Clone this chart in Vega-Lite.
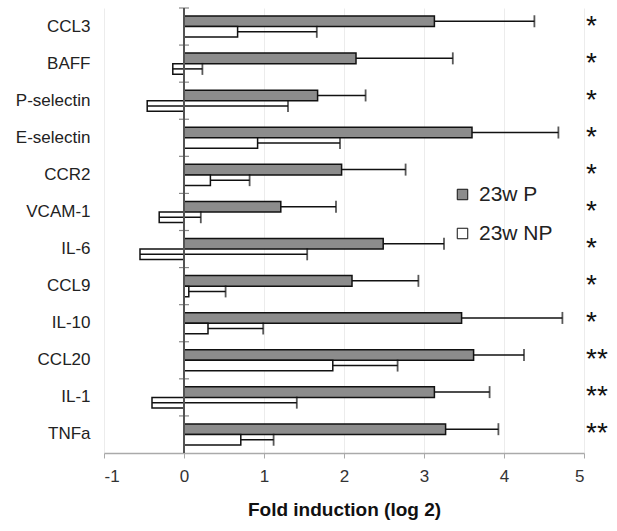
{
  "$schema": "https://vega.github.io/schema/vega-lite/v6.json",
  "autosize": {"type": "none"},
  "width": 480,
  "height": 445,
  "padding": {"left": 104, "top": 8, "right": 33, "bottom": 78},
  "background": "white",
  "config": {
    "view": {"stroke": null},
    "font": "Liberation Sans"
  },
  "datasets": {
    "bars": [
      {"gene": "CCL3", "group": "23w P", "value": 3.13, "upper": 4.38},
      {"gene": "CCL3", "group": "23w NP", "value": 0.67, "upper": 1.66},
      {"gene": "BAFF", "group": "23w P", "value": 2.15, "upper": 3.36},
      {"gene": "BAFF", "group": "23w NP", "value": -0.14, "upper": 0.23},
      {"gene": "P-selectin", "group": "23w P", "value": 1.67, "upper": 2.27},
      {"gene": "P-selectin", "group": "23w NP", "value": -0.46, "upper": 1.30},
      {"gene": "E-selectin", "group": "23w P", "value": 3.60, "upper": 4.68},
      {"gene": "E-selectin", "group": "23w NP", "value": 0.92, "upper": 1.95},
      {"gene": "CCR2", "group": "23w P", "value": 1.97, "upper": 2.77},
      {"gene": "CCR2", "group": "23w NP", "value": 0.33, "upper": 0.82},
      {"gene": "VCAM-1", "group": "23w P", "value": 1.21, "upper": 1.90},
      {"gene": "VCAM-1", "group": "23w NP", "value": -0.31, "upper": 0.21},
      {"gene": "IL-6", "group": "23w P", "value": 2.49, "upper": 3.25},
      {"gene": "IL-6", "group": "23w NP", "value": -0.55, "upper": 1.54},
      {"gene": "CCL9", "group": "23w P", "value": 2.10, "upper": 2.93},
      {"gene": "CCL9", "group": "23w NP", "value": 0.06, "upper": 0.52},
      {"gene": "IL-10", "group": "23w P", "value": 3.47, "upper": 4.73},
      {"gene": "IL-10", "group": "23w NP", "value": 0.30, "upper": 0.99},
      {"gene": "CCL20", "group": "23w P", "value": 3.62, "upper": 4.25},
      {"gene": "CCL20", "group": "23w NP", "value": 1.86, "upper": 2.67},
      {"gene": "IL-1", "group": "23w P", "value": 3.13, "upper": 3.82},
      {"gene": "IL-1", "group": "23w NP", "value": -0.40, "upper": 1.41},
      {"gene": "TNFa", "group": "23w P", "value": 3.27, "upper": 3.93},
      {"gene": "TNFa", "group": "23w NP", "value": 0.71, "upper": 1.12}
    ],
    "sig": [
      {"gene": "CCL3", "stars": "*"},
      {"gene": "BAFF", "stars": "*"},
      {"gene": "P-selectin", "stars": "*"},
      {"gene": "E-selectin", "stars": "*"},
      {"gene": "CCR2", "stars": "*"},
      {"gene": "VCAM-1", "stars": "*"},
      {"gene": "IL-6", "stars": "*"},
      {"gene": "CCL9", "stars": "*"},
      {"gene": "IL-10", "stars": "*"},
      {"gene": "CCL20", "stars": "**"},
      {"gene": "IL-1", "stars": "**"},
      {"gene": "TNFa", "stars": "**"}
    ]
  },
  "encoding": {
    "y": {
      "field": "gene",
      "type": "nominal",
      "sort": ["CCL3", "BAFF", "P-selectin", "E-selectin", "CCR2", "VCAM-1", "IL-6", "CCL9", "IL-10", "CCL20", "IL-1", "TNFa"],
      "scale": {"paddingInner": 0, "paddingOuter": 0},
      "axis": {
        "title": null,
        "domain": false,
        "ticks": false,
        "labelPadding": 14,
        "labelFontSize": 17,
        "labelColor": "#222222",
        "labelFont": "Liberation Sans"
      }
    }
  },
  "layer": [
    {
      "data": {"name": "bars"},
      "mark": {"type": "bar", "stroke": "#111111", "strokeWidth": 1.5},
      "encoding": {
        "x": {
          "field": "value",
          "type": "quantitative",
          "scale": {"domain": [-1, 5], "nice": false, "zero": false},
          "axis": {
            "title": "Fold induction (log 2)",
            "titleFontSize": 19,
            "titleFontWeight": "bold",
            "titleColor": "#111111",
            "titlePadding": 16,
            "values": [-1, 0, 1, 2, 3, 4, 5],
            "labelExpr": "'' + datum.value",
            "labelFontSize": 17,
            "labelColor": "#333333",
            "labelPadding": 10,
            "tickSize": 5,
            "tickColor": "#aaaaaa",
            "domainColor": "#aaaaaa",
            "domainWidth": 1.5,
            "grid": true,
            "gridColor": "#ececec"
          }
        },
        "yOffset": {
          "field": "group",
          "type": "nominal",
          "sort": ["23w P", "23w NP"],
          "scale": {"paddingInner": 0, "paddingOuter": 0.76}
        },
        "color": {
          "field": "group",
          "type": "nominal",
          "sort": ["23w P", "23w NP"],
          "scale": {"domain": ["23w P", "23w NP"], "range": ["#8c8c8c", "#ffffff"]},
          "legend": {
            "title": null,
            "orient": "none",
            "legendX": 348,
            "legendY": 176,
            "padding": 0,
            "symbolType": "square",
            "symbolSize": 110,
            "symbolStrokeColor": "#111111",
            "symbolStrokeWidth": 1,
            "symbolOpacity": 1,
            "labelFontSize": 21,
            "labelColor": "#222222",
            "labelOffset": 6,
            "rowPadding": 17
          }
        }
      }
    },
    {
      "data": {"name": "bars"},
      "mark": {"type": "rule", "color": "#111111", "strokeWidth": 1.5},
      "encoding": {
        "x": {"field": "value", "type": "quantitative"},
        "x2": {"field": "upper"},
        "yOffset": {"field": "group", "type": "nominal", "sort": ["23w P", "23w NP"]}
      }
    },
    {
      "data": {"name": "bars"},
      "mark": {"type": "tick", "color": "#111111", "thickness": 1.8, "size": 12, "orient": "vertical"},
      "encoding": {
        "x": {"field": "upper", "type": "quantitative"},
        "yOffset": {"field": "group", "type": "nominal", "sort": ["23w P", "23w NP"]}
      }
    },
    {
      "data": {"name": "sig"},
      "mark": {"type": "rule", "color": "#555555", "strokeWidth": 1.5},
      "encoding": {
        "x": {"datum": 0},
        "y": null
      }
    },
    {
      "data": {"name": "sig"},
      "mark": {"type": "tick", "color": "#555555", "thickness": 1.2, "size": 10, "orient": "horizontal"},
      "encoding": {
        "x": {"datum": 0},
        "y": {"field": "gene", "type": "nominal", "bandPosition": 0, "sort": ["CCL3", "BAFF", "P-selectin", "E-selectin", "CCR2", "VCAM-1", "IL-6", "CCL9", "IL-10", "CCL20", "IL-1", "TNFa"]}
      }
    },
    {
      "data": {"name": "sig"},
      "mark": {"type": "text", "align": "left", "baseline": "middle", "dx": 2, "dy": 0, "fontSize": 28, "color": "#111111", "font": "Liberation Sans"},
      "encoding": {
        "x": {"datum": 5},
        "text": {"field": "stars"}
      }
    }
  ]
}
